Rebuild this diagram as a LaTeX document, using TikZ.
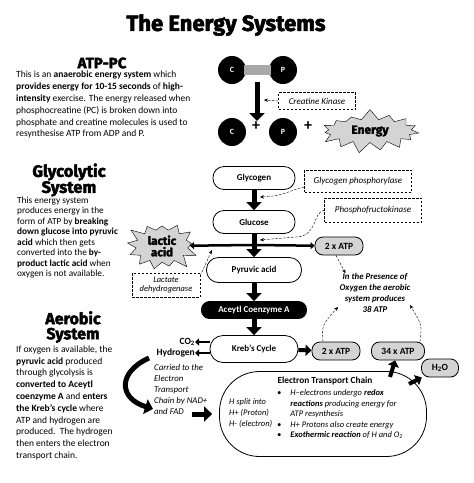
\documentclass[tikz,border=0pt]{standalone}
\usepackage{fontspec}
\setmainfont{Carlito}
\newfontfamily\headfont{Fira Sans}[BoldFeatures={FakeBold=2.5}]
\usetikzlibrary{arrows.meta,positioning,shapes.symbols,shapes.misc}
\definecolor{cG}{HTML}{d4d4d4}
\definecolor{cB}{HTML}{a8a8a8}
\tikzset{
  heading/.style={font=\headfont\bfseries\fontsize{16.5}{16}\selectfont,align=center,inner sep=0pt},
  body/.style={font=\fontsize{9.5}{11.8}\selectfont,align=left,anchor=north west,inner sep=0pt},
  note/.style={font=\itshape\fontsize{8.8}{10.8}\selectfont,align=left,anchor=north west,inner sep=0pt},
  molecule/.style={circle,fill=black,minimum size=28pt,inner sep=0pt,text=white,
              font=\bfseries\fontsize{8}{8}\selectfont},
  pill/.style={draw,thick,fill=white,rounded corners=11pt,minimum width=82pt,
              minimum height=23pt,inner sep=2pt,font=\bfseries\fontsize{9}{10}\selectfont},
  atpbox/.style={draw,thick,fill=cG,rounded corners=8pt,minimum height=18pt,
              inner sep=3pt,font=\bfseries\fontsize{9.5}{10}\selectfont},
  enzyme/.style={draw,dash pattern=on 2.5pt off 1.5pt,align=center,inner sep=2pt,
              font=\itshape\fontsize{9}{10}\selectfont},
  burst/.style={starburst,draw,fill=cG,starburst point height=9pt,inner sep=1pt,
              align=center,font=\headfont\bfseries\fontsize{11}{11}\selectfont},
  bigarrow/.style={-{Triangle[length=8pt,width=15pt]},line width=5pt},
  midarrow/.style={-{Triangle[length=6pt,width=11pt]},line width=4pt},
  smallarrow/.style={-{Triangle[length=4pt,width=7pt]},line width=2.5pt},
  dasharrow/.style={-{Stealth[length=4pt,width=3.5pt]},dash pattern=on 2.5pt off 1.5pt},
}
\begin{document}
\begin{tikzpicture}[x=1pt,y=-1pt]
  \useasboundingbox[fill=white] (0,0) rectangle (474,483);
  \node[heading,font=\headfont\bfseries\fontsize{22}{24}\selectfont] (title) at (226,25) {The Energy Systems};
  % ATP-PC
  \node[heading,font=\headfont\bfseries\fontsize{15}{15}\selectfont] (atppc) at (102,63) {ATP-PC};
  \node[body] (atptext) at (16,71) {This is an \textbf{anaerobic energy system} which\\
    \textbf{provides energy for 10-15 seconds} of \textbf{high-}\\
    \textbf{intensity} exercise. The energy released when\\
    phosphocreatine (PC) is broken down into\\
    phosphate and creatine molecules is used to\\
    resynthesise ATP from ADP and P.};
  \node[molecule] (c1) at (232,70) {C};
  \node[molecule] (p1) at (283,70) {P};
  \draw[line width=10pt,cB,shorten <=-2pt,shorten >=-2pt] (c1) -- (p1);
  \coordinate (pcTop) at (257,82);
  \coordinate (pcBot) at (257,121);
  \draw[bigarrow] (pcTop) -- (pcBot);
  \node[enzyme,minimum width=77pt,minimum height=17pt] (ck) at (317,101) {Creatine Kinase};
  \coordinate (ckEnd) at (264,100);
  \draw[dasharrow] (ck.west) -- (ckEnd);
  \node[molecule] (c2) at (232,132) {C};
  \node[molecule] (p2) at (283,132) {P};
  \node[font=\bfseries\fontsize{16}{16}\selectfont,inner sep=0pt] (plus1) at (256,126) {+};
  \node[font=\bfseries\fontsize{16}{16}\selectfont,inner sep=0pt] (plus2) at (308,126) {+};
  \node[burst,starburst points=15,random starburst=7,starburst point height=11pt,minimum width=105pt,minimum height=45pt,
        font=\headfont\bfseries\fontsize{12}{12}\selectfont] (energy) at (370,131) {Energy};
  % glycolytic system
  \node[heading] (glyhead) at (69,180) {Glycolytic\\[0pt]System};
  \node[body,font=\fontsize{9.3}{10.5}\selectfont] (glytext) at (17,196.5) {This energy system\\
    produces energy in the\\
    form of ATP by \textbf{breaking}\\
    \textbf{down glucose into pyruvic}\\
    \textbf{acid} which then gets\\
    converted into the \textbf{by-}\\
    \textbf{product lactic acid} when\\
    oxygen is not available.};
  \node[pill] (glycogen) at (254,178) {Glycogen};
  \node[pill] (glucose) at (254,222) {Glucose};
  \node[pill,minimum width=95pt,minimum height=25pt,rounded corners=12pt] (pyruvic) at (254,270) {Pyruvic acid};
  \node[pill,fill=black,text=white,minimum width=105pt,minimum height=17pt,rounded corners=8pt] (acetyl) at (254,310) {Aceytl Coenzyme A};
  \node[pill,minimum width=88pt,minimum height=27pt,rounded corners=13pt] (krebs) at (254,349) {Kreb's Cycle};
  \draw[bigarrow] (glycogen) -- (glucose);
  \draw[bigarrow] (glucose) -- (pyruvic);
  \draw[bigarrow] (pyruvic) -- (acetyl);
  \draw[bigarrow] (acetyl) -- (krebs);
  \node[atpbox,minimum width=48pt] (atpA) at (339,246) {2 x ATP};
  \node[burst,starburst points=13,random starburst=3,starburst point height=12pt,minimum width=76pt,minimum height=48pt,
        font=\headfont\bfseries\fontsize{11.5}{11.5}\selectfont] (lactic) at (162,246) {lactic\\acid};
  \coordinate (gx) at (254,245);
  \draw[smallarrow] (gx) -- (atpA);
  \draw[smallarrow] (gx) -- (lactic);
  \node[enzyme,minimum width=107pt,minimum height=22pt] (gp) at (358,181) {Glycogen phosphorylase};
  \node[enzyme,minimum width=97pt,minimum height=24pt] (pfk) at (373,210) {Phosphofructokinase};
  \node[enzyme,minimum width=68pt,minimum height=24pt,font=\itshape\fontsize{8.5}{9.8}\selectfont] (ldh) at (166,285) {Lactate\\dehydrogenase};
  \coordinate (gpEnd) at (260,197);
  \coordinate (pfkEnd) at (260,240);
  \coordinate (ldhEnd) at (212,250);
  \draw[dasharrow] ([yshift=-6pt]gp.west) .. controls (290,190) and (285,196) .. (gpEnd);
  \draw[dasharrow] (pfk.west) .. controls (312,213) and (318,236) .. (296,237) -- (pfkEnd);
  \draw[dasharrow] ([yshift=-3pt]ldh.north east) -- (ldhEnd);
  % aerobic system
  \node[heading,font=\headfont\bfseries\fontsize{16}{15}\selectfont] (aerhead) at (73,327) {Aerobic\\[0pt]System};
  \node[body] (aertext) at (16,345.5) {If oxygen is available, the\\
    \textbf{pyruvic acid} produced\\
    through glycolysis is\\
    \textbf{converted to Aceytl}\\
    \textbf{coenzyme A} and \textbf{enters}\\
    \textbf{the Kreb's cycle} where\\
    ATP and hydrogen are\\
    produced.\ \ The hydrogen\\
    then enters the electron\\
    transport chain.};
  \node[font=\itshape\bfseries\fontsize{8.8}{11}\selectfont,align=center,inner sep=0pt] (presence) at (375,293) {In the Presence of\\Oxygen the aerobic\\system produces\\38 ATP};
  \node[atpbox,minimum width=48pt] (atpB) at (336,351) {2 x ATP};
  \node[atpbox,minimum width=53pt] (atpC) at (398,351) {34 x ATP};
  \node[atpbox,minimum width=37pt] (h2o) at (440,368) {H\textsubscript{2}O};
  \draw[midarrow] (krebs) -- (atpB);
  \coordinate (presL) at (338,307);
  \coordinate (presR) at (410,305);
  \draw[dasharrow] ([xshift=-3pt]atpA.south) -- ([xshift=6pt]presence.north west);
  \draw[dasharrow] ([xshift=-13pt]atpB.north) .. controls (322,325) .. (presL);
  \draw[dasharrow] ([xshift=22pt]atpC.north) .. controls (422,325) .. (presR);
  \node[font=\bfseries\fontsize{9.5}{10}\selectfont,anchor=east,inner sep=0pt] (co2) at (195,342) {CO\textsubscript{2}};
  \node[font=\bfseries\fontsize{9.5}{10}\selectfont,anchor=east,inner sep=0pt] (hyd) at (195,353) {Hydrogen};
  \draw[smallarrow] (krebs.west |- co2) -- (co2);
  \draw[smallarrow] (krebs.west |- hyd) -- (hyd);
  \coordinate (curveStart) at (149,358);
  \coordinate (curveEnd) at (153,409);
  \draw[bigarrow] (curveStart) .. controls (118,372) and (118,398) .. (curveEnd);
  \node[note] (carried) at (154,364.5) {Carried to the\\Electron\\Transport\\Chain by NAD+\\and FAD};
  % electron transport chain
  \node[draw,thick,fill=white,rounded corners=40pt,minimum width=207pt,minimum height=85pt] (etc) at (323,414) {};
  \coordinate (nadStart) at (192,414);
  \draw[bigarrow,shorten >=7pt] (nadStart) -- (etc);
  \node[font=\bfseries\fontsize{9.3}{10}\selectfont,inner sep=0pt] (etctitle) at (325,381) {Electron Transport Chain};
  \node[note,font=\itshape\fontsize{8.5}{11}\selectfont] (hsplit) at (229,398) {H split into\\H+ (Proton)\\H- (electron)};
  \node[note,font=\itshape\fontsize{8.5}{10.5}\selectfont] (bullets) at (277,388) {%
    \begin{tabular}{@{}l@{\hspace{9pt}}l@{}}
      \textbullet & H–electrons undergo \textbf{redox}\\
       & \textbf{reactions} producing energy for\\
       & ATP resynthesis\\
      \textbullet & H+ Protons also create energy\\
      \textbullet & \textbf{Exothermic reaction} of H and O\textsubscript{2}
    \end{tabular}};
  \coordinate (etcA) at (390,377);
  \coordinate (etcB) at (409,384);
  \draw[midarrow] (etcA) -- (atpC);
  \draw[midarrow] (etcB) -- (h2o);
\end{tikzpicture}
\end{document}
